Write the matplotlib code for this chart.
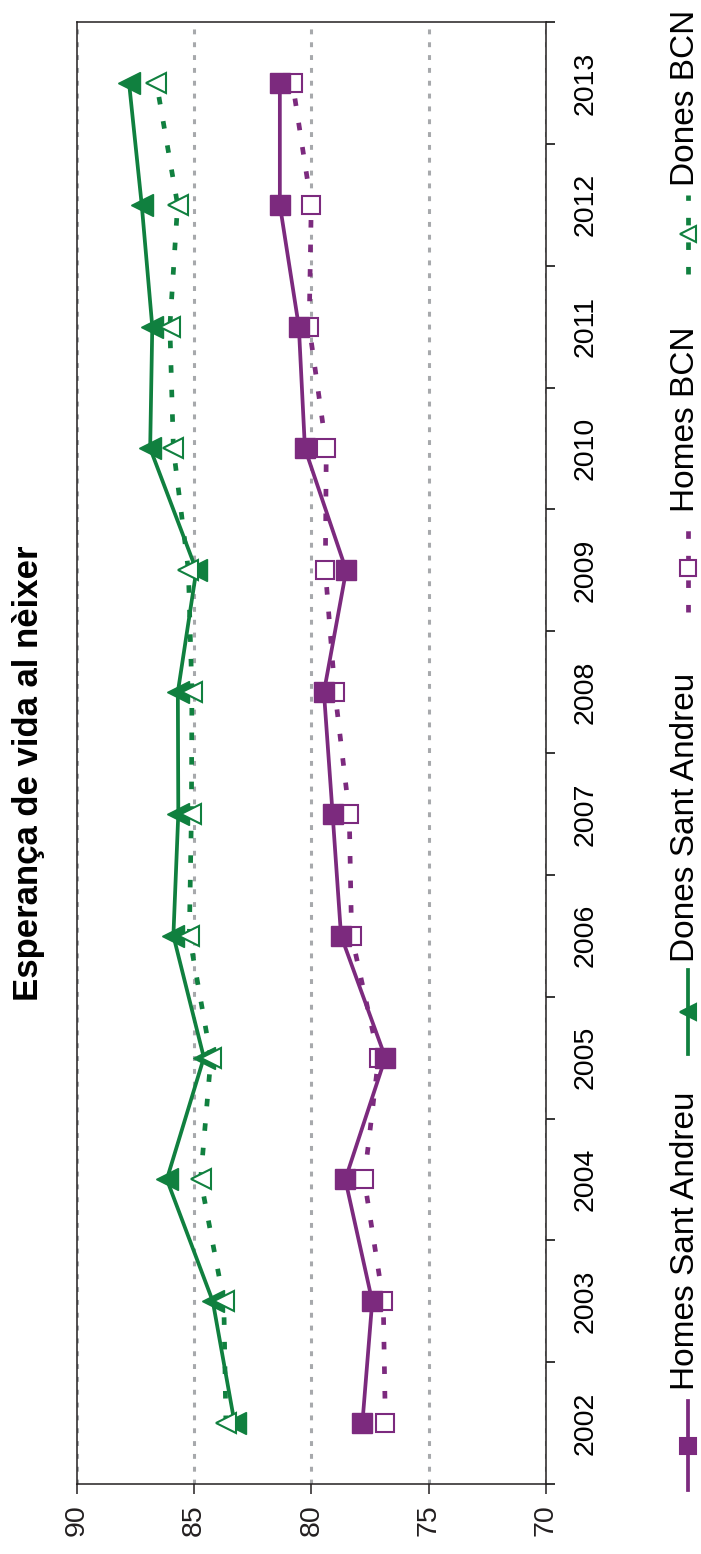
import matplotlib
matplotlib.use('Agg')
import matplotlib.pyplot as plt
from matplotlib.lines import Line2D
import numpy as np

plt.rcParams['font.family'] = ['Liberation Sans', 'DejaVu Sans']

years = ['2002', '2003', '2004', '2005', '2006', '2007', '2008', '2009', '2010', '2011', '2012', '2013']
homes_sa = [77.83, 77.41, 78.56, 76.85, 78.74, 79.10, 79.47, 78.52, 80.28, 80.54, 81.35, 81.35]
dones_sa = [83.28, 84.21, 86.17, 84.59, 85.89, 85.68, 85.70, 84.91, 86.88, 86.79, 87.24, 87.78]
homes_bcn = [76.85, 76.94, 77.75, 77.14, 78.29, 78.39, 79.00, 79.41, 79.37, 80.10, 80.01, 80.81]
dones_bcn = [83.65, 83.74, 84.73, 84.29, 85.21, 85.12, 85.10, 85.25, 85.89, 86.04, 85.71, 86.61]
series_names = ['Homes Sant Andreu', 'Dones Sant Andreu', 'Homes BCN', 'Dones BCN']
value_ticks = [90, 85, 80, 75, 70]
title = 'Esperança de vida al nèixer'

GREEN = '#10803F'
PURPLE = '#7C2A7E'
GRID = '#A7A9AC'

W, H = 701, 1554
fig = plt.figure(figsize=(W / 100, H / 100), dpi=100)


def px(x, y):
    return x / W, 1 - y / H


ax = fig.add_axes([77 / W, 1 - 1484 / H, (546 - 77) / W, (1484 - 22) / H])
pos = np.arange(len(years))

solid_lw = 2.7
dot_lw = 3.4
dot_style = (0, (1.6, 3.6))

ax.plot(homes_bcn, pos, color=PURPLE, lw=dot_lw, linestyle=dot_style, marker='s',
        markersize=13.5, markerfacecolor='white', markeredgecolor=PURPLE, markeredgewidth=1.5, zorder=3)
ax.plot(homes_sa, pos, color=PURPLE, lw=solid_lw, marker='s', markersize=14.5,
        markerfacecolor=PURPLE, markeredgecolor=PURPLE, zorder=4)
ax.plot(dones_sa, pos, color=GREEN, lw=solid_lw, marker='<', markersize=16,
        markerfacecolor=GREEN, markeredgecolor=GREEN, zorder=3)
ax.plot(dones_bcn, pos, color=GREEN, lw=dot_lw, linestyle=dot_style, marker='<',
        markersize=15, markerfacecolor='white', markeredgecolor=GREEN, markeredgewidth=1.5, zorder=4)

ax.set_xlim(90, 70)
ax.set_ylim(-0.5, len(years) - 0.5)
ax.set_xticks(value_ticks)
ax.set_xticklabels([str(v) for v in value_ticks], rotation=90)
ax.tick_params(axis='x', direction='out', length=7.5, width=1.1, labelsize=20.5, pad=7, colors='#231F20')

ax.yaxis.tick_right()
ax.set_yticks(pos)
ax.set_yticklabels(years, rotation=90, va='center')
ax.tick_params(axis='y', which='major', length=0, labelsize=20.5, pad=19, right=True, left=False)
ax.set_yticks(np.arange(-0.5, len(years), 1.0), minor=True)
ax.tick_params(axis='y', which='minor', length=6.5, width=1.1, direction='out', right=True, left=False)

ax.xaxis.grid(True, color=GRID, lw=2.2, linestyle=(0, (1.6, 2.6)))
ax.set_axisbelow(True)
for s in ax.spines.values():
    s.set_linewidth(1.1)
    s.set_color('#231F20')

fig.text(*px(29, 773), title, rotation=90, fontsize=25, fontweight='bold',
         ha='center', va='center')

LX = 688
entries = [
    (series_names[0], PURPLE, '-', 's', PURPLE, 1490, 1401, 1390),
    (series_names[1], GREEN, '-', '<', GREEN, 1054, 970, 962),
    (series_names[2], PURPLE, ':', 's', 'white', 612, 523, 512),
    (series_names[3], GREEN, ':', '<', 'white', 274, 195, 186),
]
for name, col, ls, mk, fc, y0, y1, ty in entries:
    x0, fy0 = px(LX, y0)
    _, fy1 = px(LX, y1)
    style = '-' if ls == '-' else (0, (1.6, 3.6))
    lw = solid_lw if ls == '-' else dot_lw
    fig.add_artist(Line2D([x0, x0], [fy0, fy1], color=col, lw=lw, linestyle=style,
                          transform=fig.transFigure))
    fig.add_artist(Line2D([x0], [(fy0 + fy1) / 2], color=col, marker=mk, markersize=11,
                          markerfacecolor=fc, markeredgecolor=col, markeredgewidth=1.5,
                          transform=fig.transFigure))
    fig.text(*px(701, ty), name, rotation=90, fontsize=24, ha='right', va='bottom')

fig.savefig('out.png', dpi=100)
